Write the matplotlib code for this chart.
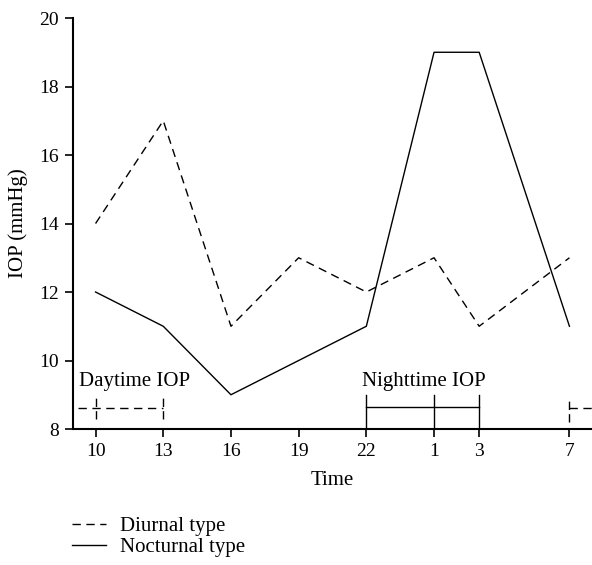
import numpy as np
import matplotlib.pyplot as plt

plt.rcParams['font.family'] = ['Liberation Serif', 'DejaVu Serif']

# clock hours, laid out on a continuous time axis (1, 3, 7 are next day)
hours = [10, 13, 16, 19, 22, 25, 27, 31]
tick_labels = ['10', '13', '16', '19', '22', '1', '3', '7']
diurnal = [14, 17, 11, 13, 12, 13, 11, 13]
nocturnal = [12, 11, 9, 10, 11, 19, 19, 11]

day_span = [10, 13]
night_span = [22, 25, 27]

fig = plt.figure(figsize=(5.92, 5.65), dpi=100)
ax = fig.add_axes([0.1233, 0.2407, 0.8767, 0.7274])

l1, = ax.plot(hours, diurnal, color='black', lw=1.0, ls=(0, (6, 4)), label='Diurnal type')
l2, = ax.plot(hours, nocturnal, color='black', lw=1.0, label='Nocturnal type')

# daytime bracket (dashed)
yb = 8.6
ax.plot([9.2, day_span[1]], [yb, yb], color='black', lw=1.0, ls=(0, (6, 4)))
for h in day_span:
    ax.plot([h, h], [8.3, 8.95], color='black', lw=1.0, ls=(0, (6, 3)))
ax.text(9.25, 9.1, 'Daytime IOP', fontsize=15, ha='left', va='bottom')

# nighttime bracket (solid)
ax.plot([night_span[0], night_span[-1]], [8.65, 8.65], color='black', lw=1.0)
for h in night_span:
    ax.plot([h, h], [8.0, 9.0], color='black', lw=1.0)
ax.text(21.8, 9.1, 'Nighttime IOP', fontsize=15, ha='left', va='bottom')

# start of next daytime window
ax.plot([hours[-1], 32], [8.6, 8.6], color='black', lw=1.0, ls=(0, (6, 4)))
ax.plot([hours[-1], hours[-1]], [8.2, 8.9], color='black', lw=1.0, ls=(0, (6, 3)))

ax.set_xlim(9, 32)
ax.set_ylim(8, 20)
ax.set_xticks(hours)
ax.set_xticklabels(tick_labels)
ax.set_yticks(np.arange(8, 21, 2))
ax.tick_params(direction='out', length=6, width=1.2, labelsize=14, pad=4)
for s in ['top', 'right']:
    ax.spines[s].set_visible(False)
for s in ['left', 'bottom']:
    ax.spines[s].set_linewidth(1.5)

ax.set_xlabel('Time', fontsize=15, labelpad=8)
ax.set_ylabel('IOP (mmHg)', fontsize=15, labelpad=8)

fig.legend(handles=[l1, l2], loc='upper left', bbox_to_anchor=(0.108, 0.1),
           frameon=False, fontsize=15, handlelength=1.6, handletextpad=0.7,
           labelspacing=0.05, borderaxespad=0)

fig.savefig('out.png', dpi=100)
